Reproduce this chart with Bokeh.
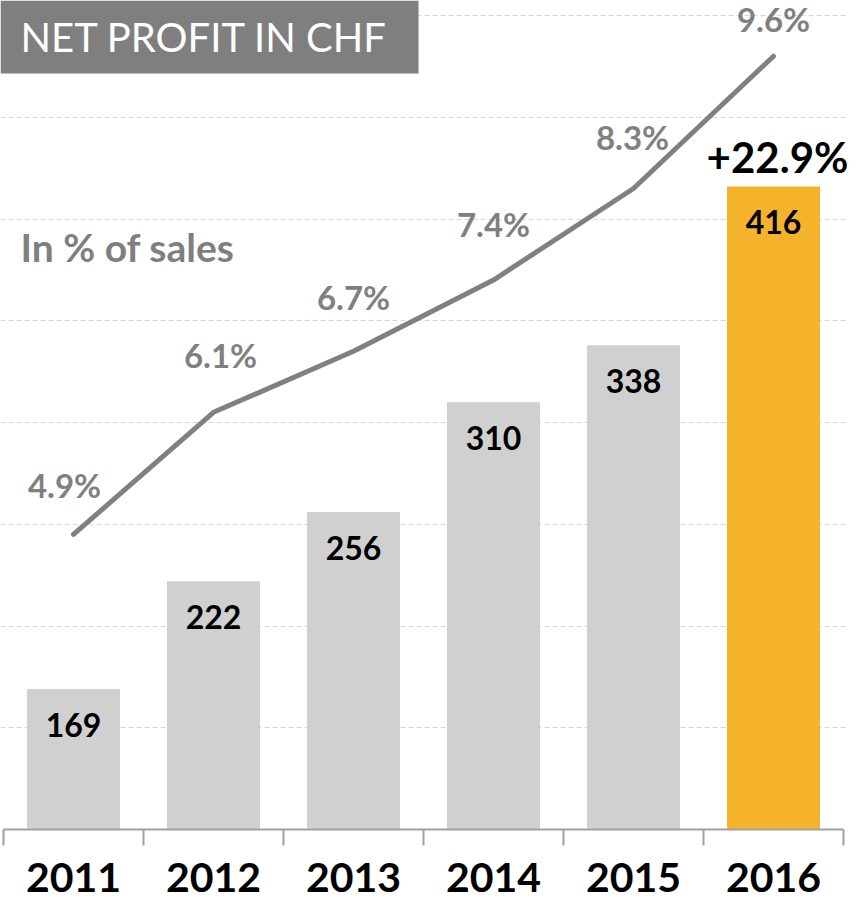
from bokeh.plotting import figure
from bokeh.models import (Range1d, Grid, FixedTicker, ColumnDataSource,
                          LabelSet, Label, BoxAnnotation)
from bokeh.core.properties import value
from bokeh.embed import file_html
from bokeh.resources import INLINE

# ---------------- data ----------------
years = ["2011", "2012", "2013", "2014", "2015", "2016"]
net_profit = [169, 222, 256, 310, 338, 416]
profit_labels = ["169", "222", "256", "310", "338", "416"]
pct_of_sales = [4.9, 6.1, 6.7, 7.4, 8.3, 9.6]
pct_labels = ["4.9%", "6.1%", "6.7%", "7.4%", "8.3%", "9.6%"]
growth_label = "+22.9%"
title_text = "NET PROFIT IN CHF"
subtitle_text = "In % of sales"
profit_grid = [150, 200, 250, 300, 350, 400, 450, 500]
profit_axis_min, profit_axis_max = 100, 500
pct_axis_min, pct_axis_max = 2, 10

# ---------------- layout (pixels from the top-left of the figure) ----------------
W, H = 847, 902
BASE_PX = 829               # baseline of the bars / x-axis line
TOP_GRID_PX = 15            # top gridline (500 / 10%)
PX_X = 140.0                # px per category
X0 = 3.0                    # px of first category boundary

x_start = -X0 / PX_X
x_end = (W - X0) / PX_X
py = (BASE_PX - TOP_GRID_PX) / float(profit_axis_max - profit_axis_min)
y_end = profit_axis_max + TOP_GRID_PX / py
y_start = profit_axis_min - (H - BASE_PX) / py
pp = (BASE_PX - TOP_GRID_PX) / float(pct_axis_max - pct_axis_min)
pct_end = pct_axis_max + TOP_GRID_PX / pp
pct_start = pct_axis_min - (H - BASE_PX) / pp


def fx(px):
    return x_start + px / PX_X


def fy(px):
    return y_end - px / py


n = len(years)
centers = [i + 0.5 for i in range(n)]
bounds = list(range(n + 1))
bar_colors = ["#d0d0d0"] * (n - 1) + ["#f4b32b"]

# per-label offsets of the % labels (screen px)
pct_dx = [-9, 7, 0, 0, -1, 0]
pct_dy = [49, 57, 54, 56, 51, 37]

p = figure(width=W, height=H,
           x_range=Range1d(x_start, x_end),
           y_range=Range1d(y_start, y_end),
           output_backend="svg", toolbar_location=None,
           x_axis_location=None, y_axis_location=None,
           min_border_left=0, min_border_right=0, min_border_top=0,
           min_border_bottom=0)
p.extra_y_ranges = {"pct": Range1d(pct_start, pct_end)}
p.outline_line_color = None
p.background_fill_color = "white"
p.border_fill_color = "white"
p.center = [r for r in p.center if not isinstance(r, Grid)]

grid = Grid(dimension=1, ticker=FixedTicker(ticks=profit_grid),
            grid_line_color="#d0d9e4", grid_line_width=1.2,
            grid_line_dash="5 3")
p.add_layout(grid)

src = ColumnDataSource(dict(x=centers, profit=net_profit, plab=profit_labels,
                            pct=pct_of_sales, pctlab=pct_labels,
                            color=bar_colors, dx=pct_dx, dy=pct_dy,
                            year=years, base=[profit_axis_min] * n))

p.vbar(x="x", top="profit", bottom=profit_axis_min, width=93 / PX_X,
       fill_color="color", line_color=None, source=src)

# category axis: base line and boundary ticks
axis_color = "#a0a0a0"
p.segment(x0=[0], y0=[profit_axis_min], x1=[n], y1=[profit_axis_min],
          line_color=axis_color, line_width=2)
p.segment(x0=bounds, y0=[profit_axis_min] * (n + 1), x1=bounds,
          y1=[profit_axis_min - 16 / py] * (n + 1),
          line_color=axis_color, line_width=2)

p.line(x="x", y="pct", y_range_name="pct", source=src,
       line_color="#808080", line_width=5, line_cap="round", line_join="round")

p.add_layout(LabelSet(x="x", y="profit", text="plab", source=src,
                      y_offset=-36, text_align="center", text_baseline="middle",
                      text_font=value("Lato"), text_font_style="bold",
                      text_font_size="32px", text_color="black"))

p.add_layout(LabelSet(x="x", y="pct", text="pctlab", source=src,
                      y_range_name="pct", x_offset="dx", y_offset="dy",
                      text_align="center", text_baseline="middle",
                      text_font=value("Lato"), text_font_style="bold",
                      text_font_size="33px", text_color="#808080"))

p.add_layout(LabelSet(x="x", y="base", text="year", source=src,
                      y_offset=-62, text_align="center", text_baseline="alphabetic",
                      text_font=value("Lato"), text_font_style="bold",
                      text_font_size="41px", text_color="black"))

p.add_layout(Label(x=centers[-1], y=net_profit[-1], text=growth_label,
                   x_offset=4, y_offset=29, text_align="center",
                   text_baseline="middle", text_font="Lato",
                   text_font_style="bold", text_font_size="42px",
                   text_color="black"))

p.add_layout(BoxAnnotation(left=x_start, right=fx(418), top=y_end, bottom=fy(73),
                           fill_color="#7f7f7f", fill_alpha=1, line_color=None))

p.add_layout(Label(x=fx(20), y=fy(36), text=title_text, text_align="left",
                   text_baseline="middle", text_font="Lato",
                   text_font_size="40px", text_color="white"))

p.add_layout(Label(x=fx(20), y=fy(246), text=subtitle_text, text_align="left",
                   text_baseline="middle", text_font="Lato",
                   text_font_style="bold", text_font_size="39px",
                   text_color="#7f7f7f"))

open("out.html", "w").write(file_html(p, INLINE))
